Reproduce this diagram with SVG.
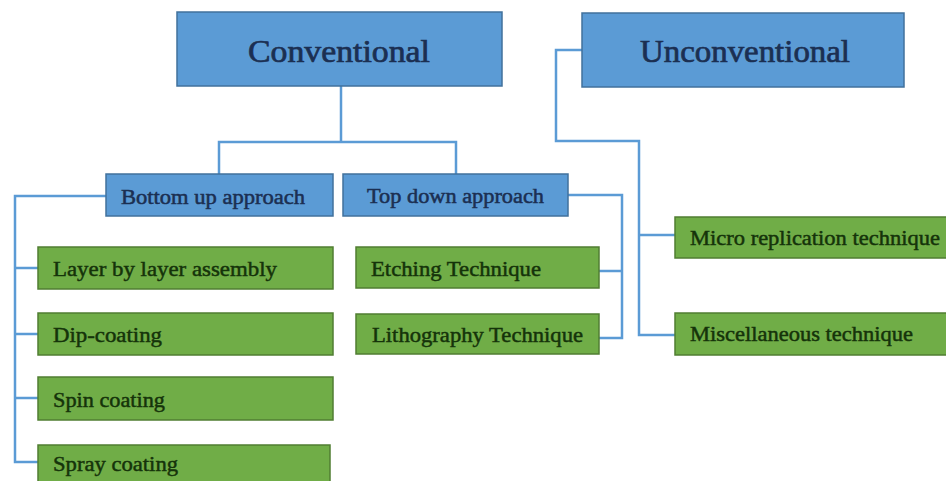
<svg xmlns="http://www.w3.org/2000/svg" width="946" height="481" viewBox="0 0 946 481">
<style>
.blue{fill:#5b9bd5;stroke:#41719c;stroke-width:1.5}
.green{fill:#70ad47;stroke:#507e32;stroke-width:1.5}
.tb{font-family:"Liberation Serif","Times New Roman",serif;fill:#1b2f52;stroke:#1b2f52;stroke-width:0.5}
.tg{font-family:"Liberation Serif","Times New Roman",serif;fill:#15330a;stroke:#15330a;stroke-width:0.45;font-size:20px}
.big{font-size:31px;stroke-width:0.7}
.mid{font-size:20px}
.conn{fill:none;stroke:#5b9bd5;stroke-width:2.5}
</style>
<rect width="946" height="481" fill="#ffffff"/>
<g id="connectors">
<path class="conn" d="M341 86 V142 M219 174 V142 H456 V174"/>
<path class="conn" d="M582 50 H556 V141 H639 V335 H675 M639 235 H675"/>
<path class="conn" d="M106 196 H15 V462 H38 M15 268 H38 M15 334 H38 M15 398 H38"/>
<path class="conn" d="M568 195 H622 V338 H599 M599 271 H622"/>
</g>
<g id="conventional">
<rect class="blue" x="177" y="12" width="325" height="74"/>
<text class="tb big" x="248" y="62" textLength="182" lengthAdjust="spacingAndGlyphs">Conventional</text>
</g>
<g id="unconventional">
<rect class="blue" x="582" y="13" width="322" height="74"/>
<text class="tb big" x="640" y="62" textLength="210" lengthAdjust="spacingAndGlyphs">Unconventional</text>
</g>
<g id="bottom-up">
<rect class="blue" x="106" y="174" width="227" height="42"/>
<text class="tb mid" x="121" y="204" textLength="184" lengthAdjust="spacingAndGlyphs">Bottom up approach</text>
</g>
<g id="top-down">
<rect class="blue" x="343" y="174" width="225" height="42"/>
<text class="tb mid" x="367" y="203" textLength="177" lengthAdjust="spacingAndGlyphs">Top down approach</text>
</g>
<g id="layer">
<rect class="green" x="38" y="247" width="295" height="42"/>
<text class="tg" x="53" y="276" textLength="224" lengthAdjust="spacingAndGlyphs">Layer by layer assembly</text>
</g>
<g id="dip">
<rect class="green" x="38" y="313" width="295" height="42"/>
<text class="tg" x="53" y="342" textLength="109" lengthAdjust="spacingAndGlyphs">Dip-coating</text>
</g>
<g id="spin">
<rect class="green" x="38" y="377" width="295" height="43"/>
<text class="tg" x="53" y="407" textLength="112" lengthAdjust="spacingAndGlyphs">Spin coating</text>
</g>
<g id="spray">
<rect class="green" x="38" y="445" width="292" height="40"/>
<text class="tg" x="53" y="471" textLength="125" lengthAdjust="spacingAndGlyphs">Spray coating</text>
</g>
<g id="etching">
<rect class="green" x="356" y="247" width="243" height="41"/>
<text class="tg" x="371" y="276" textLength="170" lengthAdjust="spacingAndGlyphs">Etching Technique</text>
</g>
<g id="lithography">
<rect class="green" x="356" y="314" width="243" height="40"/>
<text class="tg" x="372" y="342" textLength="211" lengthAdjust="spacingAndGlyphs">Lithography Technique</text>
</g>
<g id="micro">
<rect class="green" x="675" y="217" width="275" height="41"/>
<text class="tg" x="690" y="245" textLength="250" lengthAdjust="spacingAndGlyphs">Micro replication technique</text>
</g>
<g id="misc">
<rect class="green" x="675" y="313" width="275" height="42"/>
<text class="tg" x="690" y="341" textLength="223" lengthAdjust="spacingAndGlyphs">Miscellaneous technique</text>
</g>
</svg>
